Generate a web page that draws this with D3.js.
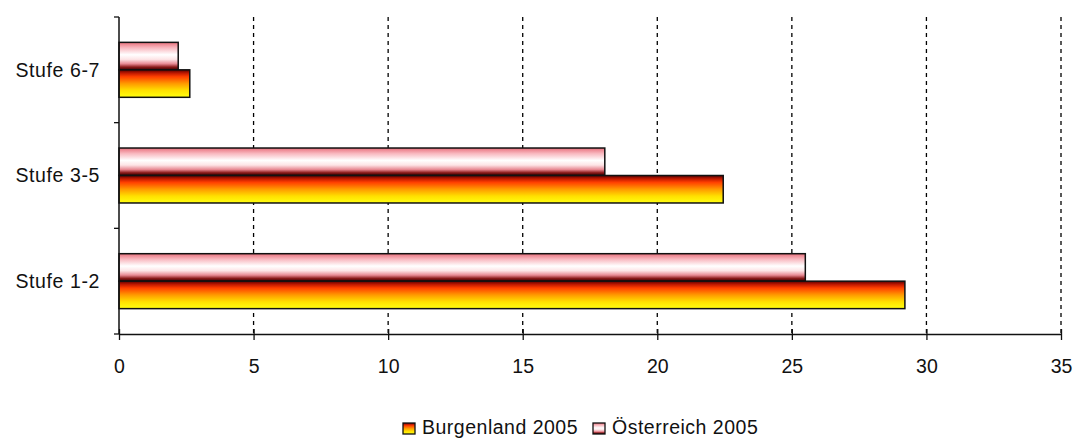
<!DOCTYPE html>
<html><head><meta charset="utf-8">
<script src="https://cdn.jsdelivr.net/npm/d3@7"></script>
<style>body{margin:0;background:#fff}svg{display:block}text{font-family:"Liberation Sans",Arial,sans-serif;fill:#111}</style>
</head><body><svg id="c" width="1074" height="439"></svg>
<script>
const categories = ["Stufe 6-7", "Stufe 3-5", "Stufe 1-2"];
const seriesNames = ["Österreich 2005", "Burgenland 2005"];
const oesterreich = [2.2, 18.05, 25.5];
const burgenland = [2.63, 22.45, 29.2];
const xTicks = [0, 5, 10, 15, 20, 25, 30, 35];
const legendOrder = ["Burgenland 2005", "Österreich 2005"];

const svg = d3.select("#c");
const W = 1074, H = 439;
const m = {l: 119, r: 13, t: 17, b: 105};
const x = d3.scaleLinear().domain([0, 35]).range([m.l, W - m.r]);
const y = d3.scaleBand().domain(categories).range([m.t, H - m.b]).paddingInner(0.48).paddingOuter(0.24);
const ys = d3.scaleBand().domain(seriesNames).range([0, y.bandwidth()]);

const defs = svg.append("defs");
const gO = defs.append("linearGradient").attr("id", "gO").attr("x1", 0).attr("y1", 0).attr("x2", 0).attr("y2", 1);
[[0, "#e8707c"], [0.2, "#f8b8bf"], [0.45, "#ffffff"], [0.62, "#fde4e6"], [0.78, "#e88a94"], [0.9, "#8a1a1a"], [1, "#3a0000"]]
  .forEach(s => gO.append("stop").attr("offset", s[0]).attr("stop-color", s[1]));
const gB = defs.append("linearGradient").attr("id", "gB").attr("x1", 0).attr("y1", 0).attr("x2", 0).attr("y2", 1);
[[0, "#5a0000"], [0.12, "#c01800"], [0.25, "#ff4000"], [0.5, "#ff9a00"], [0.75, "#ffe000"], [1, "#ffff10"]]
  .forEach(s => gB.append("stop").attr("offset", s[0]).attr("stop-color", s[1]));

// grid lines
svg.append("g").selectAll("line").data(xTicks.filter(d => d > 0)).join("line")
  .attr("x1", d => x(d)).attr("x2", d => x(d))
  .attr("y1", m.t).attr("y2", H - m.b)
  .attr("stroke", "#000").attr("stroke-width", 1.3).attr("stroke-dasharray", "4,4");

// bars
const rows = categories.map((c, i) => ({c, vals: [
  {s: seriesNames[0], v: oesterreich[i], f: "url(#gO)"},
  {s: seriesNames[1], v: burgenland[i], f: "url(#gB)"}]}));
const grp = svg.append("g").selectAll("g").data(rows).join("g")
  .attr("transform", d => `translate(0,${y(d.c)})`);
grp.selectAll("rect").data(d => d.vals).join("rect")
  .attr("x", x(0)).attr("y", d => ys(d.s))
  .attr("width", d => x(d.v) - x(0)).attr("height", ys.bandwidth())
  .attr("fill", d => d.f).attr("stroke", "#111").attr("stroke-width", 1.5);

// x axis
const xa = svg.append("g").attr("transform", `translate(0,${H - m.b})`)
  .call(d3.axisBottom(x).tickValues(xTicks).tickSize(6).tickPadding(19).tickSizeOuter(0));
xa.select(".domain").attr("stroke", "#111").attr("stroke-width", 1.5);
xa.selectAll(".tick line").attr("stroke", "#111").attr("stroke-width", 1.3).attr("y1", -5);
xa.selectAll(".tick text").attr("font-size", 19.5).attr("font-family", "Liberation Sans, Arial, sans-serif").attr("fill", "#111");

// y axis
const bounds = [m.t, ...categories.map(c => y(c) - y.step() * y.paddingInner() / 2 + y.step())];
svg.append("line").attr("x1", x(0)).attr("x2", x(0)).attr("y1", m.t).attr("y2", H - m.b)
  .attr("stroke", "#111").attr("stroke-width", 1.5);
svg.append("g").selectAll("line").data(bounds).join("line")
  .attr("x1", x(0) - 5).attr("x2", x(0)).attr("y1", d => d).attr("y2", d => d)
  .attr("stroke", "#111").attr("stroke-width", 1.3);
svg.append("g").selectAll("text").data(categories).join("text")
  .attr("x", 100).attr("y", d => y(d) + y.bandwidth() / 2)
  .attr("dy", "0.35em").attr("text-anchor", "end").attr("font-size", 19.5)
  .attr("letter-spacing", 0.6).text(d => d);

// legend
const lg = svg.append("g");
const legX = [403, 593];
legendOrder.forEach((n, i) => {
  lg.append("rect").attr("x", legX[i]).attr("y", 423).attr("width", 12).attr("height", 11)
    .attr("fill", n.startsWith("Burg") ? "url(#gB)" : "url(#gO)")
    .attr("stroke", "#111").attr("stroke-width", 1.3);
  lg.append("text").attr("x", legX[i] + 19).attr("y", 434).attr("font-size", 19.5)
    .attr("letter-spacing", 0.5).text(n);
});
</script></body></html>
